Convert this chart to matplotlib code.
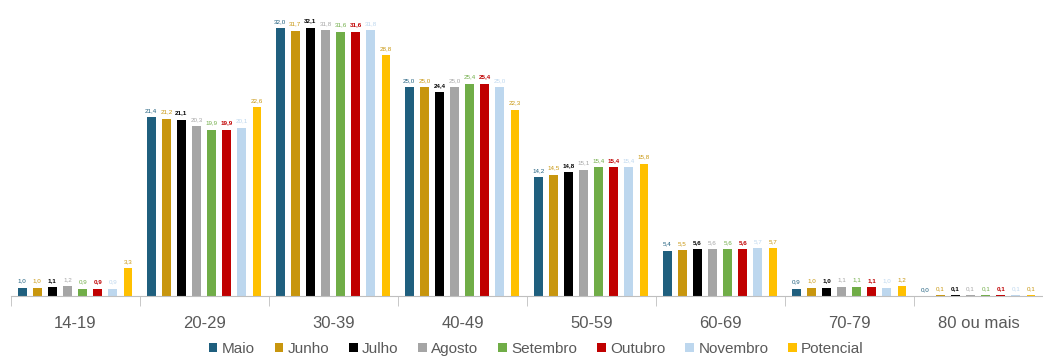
import matplotlib.pyplot as plt
import numpy as np

plt.rcParams['font.family'] = ['Liberation Sans', 'DejaVu Sans']

# faixas etárias e séries mensais (%)
faixas = ['14-19', '20-29', '30-39', '40-49', '50-59', '60-69', '70-79', '80 ou mais']
meses = ['Maio', 'Junho', 'Julho', 'Agosto', 'Setembro', 'Outubro', 'Novembro', 'Potencial']

maio = [1.0, 21.4, 32.0, 25.0, 14.2, 5.4, 0.9, 0.0]
junho = [1.0, 21.2, 31.7, 25.0, 14.5, 5.5, 1.0, 0.1]
julho = [1.1, 21.1, 32.1, 24.4, 14.8, 5.6, 1.0, 0.1]
agosto = [1.2, 20.3, 31.8, 25.0, 15.1, 5.6, 1.1, 0.1]
setembro = [0.9, 19.9, 31.6, 25.4, 15.4, 5.6, 1.1, 0.1]
outubro = [0.9, 19.9, 31.6, 25.4, 15.4, 5.6, 1.1, 0.1]
novembro = [0.9, 20.1, 31.8, 25.0, 15.4, 5.7, 1.0, 0.1]
potencial = [3.3, 22.6, 28.8, 22.3, 15.8, 5.7, 1.2, 0.1]

series = [maio, junho, julho, agosto, setembro, outubro, novembro, potencial]
cores = ['#1F5F7E', '#C8960E', '#000000', '#A5A5A5', '#70AD47', '#C00000', '#BDD7EE', '#FFC000']
cores_rotulo = ['#1F5F7E', '#C8960E', '#000000', '#A5A5A5', '#70AD47', '#C00000', '#BDD7EE', '#C8960E']

fig = plt.figure(figsize=(10.43, 3.58), dpi=100)
ax = fig.add_axes([0.0105, 0.173, 0.9895, 0.827])

x = np.arange(len(faixas))
passo = 0.117
largura = 0.068
for k, (vals, nome) in enumerate(zip(series, meses)):
    pos = x + (k - 3.5) * passo - 0.003
    ax.bar(pos, vals, width=largura, color=cores[k], label=nome)
    for xi, v in zip(pos, vals):
        ax.text(xi, v + 0.5, f'{v:.1f}'.replace('.', ','), ha='center', va='bottom',
                fontsize=4.5, color=cores_rotulo[k],
                fontweight='bold' if nome in ('Julho', 'Outubro') else 'normal')

ax.set_xlim(-0.5, 7.384)
ax.set_ylim(0, 35.4)
ax.set_yticks([])
for lado in ['top', 'right', 'left']:
    ax.spines[lado].set_visible(False)
ax.spines['bottom'].set_color('#BFBFBF')

ax.set_xticks(x)
ax.set_xticklabels(faixas, fontsize=12, color='#595959')
ax.tick_params(axis='x', length=0, pad=14)
ax.set_xticks(np.arange(-0.5, 8, 1), minor=True)
ax.tick_params(axis='x', which='minor', length=7, color='#BFBFBF')

ax.legend(loc='center', bbox_to_anchor=(0.509, -0.179), ncol=8, frameon=False,
          fontsize=11, handlelength=0.55, handleheight=0.55, handletextpad=0.3,
          columnspacing=1.3, labelcolor='#595959')

fig.savefig('out.png', dpi=100)
